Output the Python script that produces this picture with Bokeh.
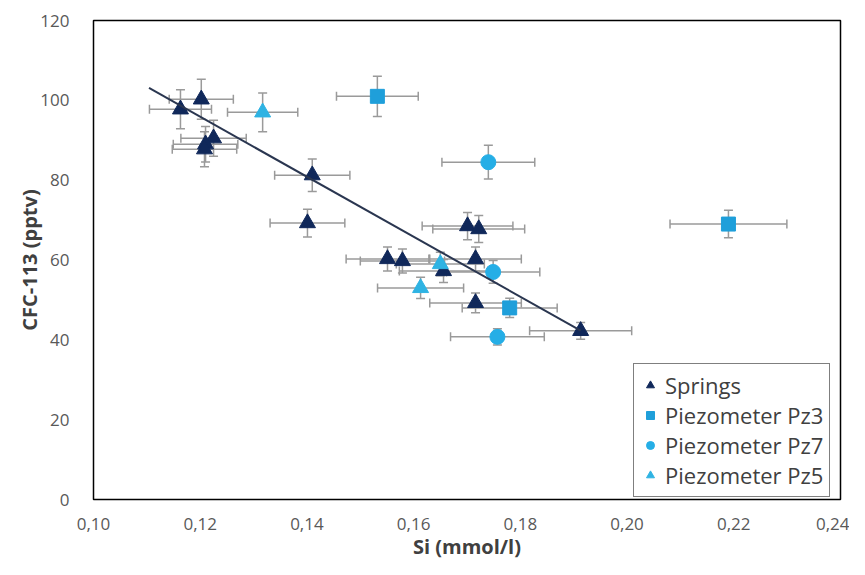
from bokeh.plotting import figure
from bokeh.models import (ColumnDataSource, Whisker, TeeHead, Range1d, FixedTicker,
                          CustomJSTickFormatter, Legend, LegendItem)
from bokeh.embed import file_html
from bokeh.resources import INLINE

# ---- data ----
springs_si = [0.1163, 0.1202, 0.1225, 0.1210, 0.1208, 0.1410, 0.1401, 0.1551,
              0.1579, 0.1656, 0.1701, 0.1722, 0.1716, 0.1716, 0.1913]
springs_cfc = [97.75, 100.25, 90.5, 89.0, 87.75, 81.25, 69.25, 60.25,
               59.75, 57.25, 68.5, 67.75, 60.25, 49.25, 42.25]
pz3_si = [0.1532, 0.1780, 0.2190]
pz3_cfc = [101.0, 48.0, 69.0]
pz7_si = [0.1740, 0.1749, 0.1757]
pz7_cfc = [84.5, 57.0, 40.75]
pz5_si = [0.1317, 0.1650, 0.1613]
pz5_cfc = [97.0, 59.0, 53.0]
trend_si = [0.1104, 0.1913]
trend_cfc = [103.1, 42.3]
rel_err = 0.05  # 5 % error bars on both axes

x_ticks = [0.10, 0.12, 0.14, 0.16, 0.18, 0.20, 0.22, 0.24]
y_ticks = [0, 20, 40, 60, 80, 100, 120]

FONT = "Open Sans"
NAVY = "#10285a"
BLUE_SQ = "#1f9fda"
BLUE_CI = "#25aee6"
BLUE_TR = "#2fb3e3"
ERR_COL = "#9a9a9a"

p = figure(width=849, height=565, output_backend="svg", toolbar_location=None,
           x_range=Range1d(0.10, 0.24), y_range=Range1d(0, 120),
           min_border_left=93, min_border_right=9, min_border_top=20,
           min_border_bottom=66)
p.background_fill_color = "white"
p.border_fill_color = "white"
p.outline_line_color = "black"
p.outline_line_width = 1.5
p.xgrid.visible = False
p.ygrid.visible = False

for ax in (p.xaxis[0], p.yaxis[0]):
    ax.axis_line_color = None
    ax.major_tick_line_color = None
    ax.minor_tick_line_color = None
    ax.major_label_text_font = FONT
    ax.major_label_text_font_size = "17px"
    ax.major_label_text_color = "#595959"
    ax.axis_label_text_font = FONT
    ax.axis_label_text_font_size = "20px"
    ax.axis_label_text_font_style = "bold"
    ax.axis_label_text_color = "#404040"

p.xaxis.ticker = FixedTicker(ticks=x_ticks)
p.yaxis.ticker = FixedTicker(ticks=y_ticks)
p.xaxis.formatter = CustomJSTickFormatter(code="return tick.toFixed(2).replace('.', ',');")
p.xaxis.axis_label = "Si (mmol/l)"
p.yaxis.axis_label = "CFC-113 (pptv)"
p.xaxis.major_label_standoff = 12
p.yaxis.major_label_standoff = 18
p.xaxis.axis_label_standoff = 0
p.yaxis.axis_label_standoff = -6


def add_errors(xs, ys):
    src = ColumnDataSource(dict(
        x=xs, y=ys,
        xl=[v * (1 - rel_err) for v in xs], xu=[v * (1 + rel_err) for v in xs],
        yl=[v * (1 - rel_err) for v in ys], yu=[v * (1 + rel_err) for v in ys]))
    for base, lo, up, dim in (("y", "xl", "xu", "width"), ("x", "yl", "yu", "height")):
        w = Whisker(source=src, base=base, lower=lo, upper=up, dimension=dim,
                    line_color=ERR_COL, line_width=1.5,
                    upper_head=TeeHead(size=9, line_color=ERR_COL, line_width=1.5),
                    lower_head=TeeHead(size=9, line_color=ERR_COL, line_width=1.5))
        p.add_layout(w)


for xs, ys in ((springs_si, springs_cfc), (pz3_si, pz3_cfc),
               (pz7_si, pz7_cfc), (pz5_si, pz5_cfc)):
    add_errors(xs, ys)

r_sp = p.scatter(springs_si, springs_cfc, marker="triangle", size=16,
                 fill_color=NAVY, line_color=NAVY)
r_pz3 = p.scatter(pz3_si, pz3_cfc, marker="square", size=14,
                  fill_color=BLUE_SQ, line_color=BLUE_SQ)
r_pz7 = p.scatter(pz7_si, pz7_cfc, marker="circle", size=15,
                  fill_color=BLUE_CI, line_color=BLUE_CI)
r_pz5 = p.scatter(pz5_si, pz5_cfc, marker="triangle", size=16,
                  fill_color=BLUE_TR, line_color=BLUE_TR)

p.line(trend_si, trend_cfc, line_color="#2a3650", line_width=2)

legend = Legend(items=[
    LegendItem(label="Springs", renderers=[r_sp]),
    LegendItem(label="Piezometer Pz3", renderers=[r_pz3]),
    LegendItem(label="Piezometer Pz7", renderers=[r_pz7]),
    LegendItem(label="Piezometer Pz5", renderers=[r_pz5]),
], location=(540, 2))
legend.label_text_font = FONT
legend.label_text_font_size = "22px"
legend.label_text_color = "#404040"
legend.label_height = 27
legend.glyph_height = 20
legend.glyph_width = 20
legend.spacing = 0
legend.padding = 6
legend.margin = 0
legend.border_line_color = "black"
legend.border_line_width = 1.5
legend.background_fill_alpha = 1.0
p.add_layout(legend, "center")

open("out.html", "w").write(file_html(p, INLINE))
